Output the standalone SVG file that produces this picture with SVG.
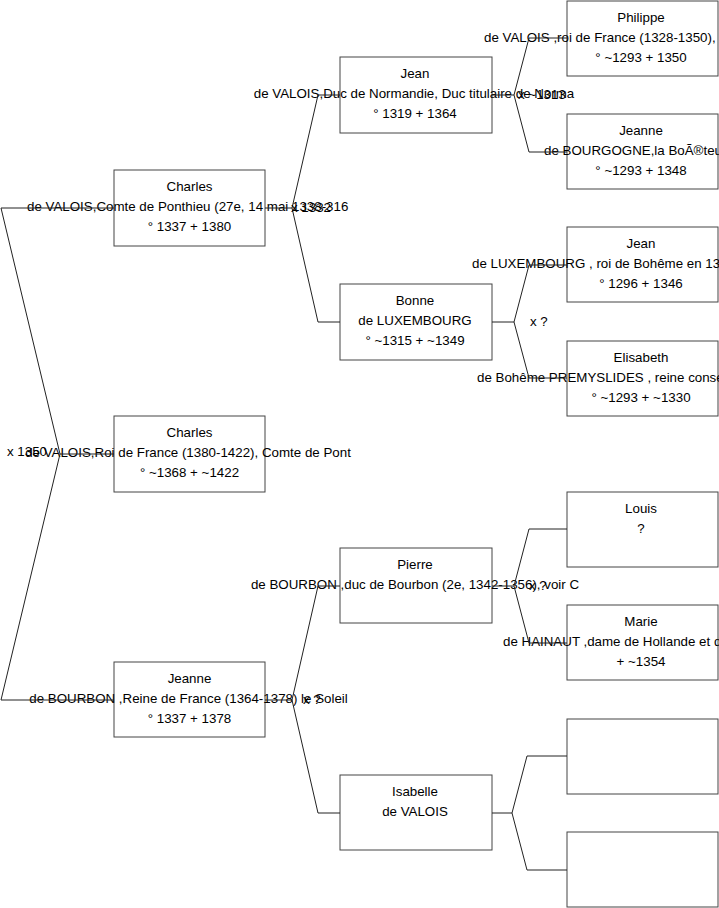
<svg xmlns="http://www.w3.org/2000/svg" width="719" height="908" viewBox="0 0 719 908">
<style>
.box{fill:#fff;stroke:#444;stroke-width:1}
text{font-family:"Liberation Sans",Arial,sans-serif;font-size:13.33px;fill:#000}
.c{text-anchor:middle}
.conn{fill:none;stroke:#222;stroke-width:1}
</style>
<rect x="0" y="0" width="719" height="908" fill="#fff"/>
<g id="n-charles-ponthieu">
<rect class="box" x="114" y="170" width="151" height="76"/>
<text class="c" x="189.5" y="191">Charles</text>
<text x="27" y="211">de VALOIS,Comte de Ponthieu (27e, 14 mai 1338-316</text>
<text class="c" x="189.5" y="231">° 1337 + 1380</text>
</g>
<g id="n-charles-roi">
<rect class="box" x="114" y="416" width="151" height="76"/>
<text class="c" x="189.5" y="437">Charles</text>
<text class="c" x="188" y="457">de VALOIS,Roi de France (1380-1422), Comte de Pont</text>
<text class="c" x="189.5" y="477">° ~1368 + ~1422</text>
</g>
<g id="n-jeanne-bourbon">
<rect class="box" x="114" y="662" width="151" height="75"/>
<text class="c" x="189.5" y="683">Jeanne</text>
<text class="c" x="188.5" y="703">de BOURBON ,Reine de France (1364-1378) le Soleil</text>
<text class="c" x="189.5" y="723">° 1337 + 1378</text>
</g>
<g id="n-jean-normandie">
<rect class="box" x="340" y="57" width="152" height="76"/>
<text class="c" x="415" y="78">Jean</text>
<text class="c" x="414" y="98">de VALOIS,Duc de Normandie, Duc titulaire de Norma</text>
<text class="c" x="415" y="118">° 1319 + 1364</text>
</g>
<g id="n-bonne">
<rect class="box" x="340" y="284" width="152" height="76"/>
<text class="c" x="415" y="305">Bonne</text>
<text class="c" x="415" y="325">de LUXEMBOURG</text>
<text class="c" x="415" y="345">° ~1315 + ~1349</text>
</g>
<g id="n-pierre">
<rect class="box" x="340" y="548" width="152" height="75"/>
<text class="c" x="415" y="569">Pierre</text>
<text class="c" x="415" y="589">de BOURBON ,duc de Bourbon (2e, 1342-1356), voir C</text>
</g>
<g id="n-isabelle">
<rect class="box" x="340" y="775" width="152" height="75"/>
<text class="c" x="415" y="796">Isabelle</text>
<text class="c" x="415" y="816">de VALOIS</text>
</g>
<g id="n-philippe">
<rect class="box" x="567" y="1" width="151" height="75"/>
<text class="c" x="641" y="22">Philippe</text>
<text x="484" y="42">de VALOIS ,roi de France (1328-1350),</text>
<text class="c" x="641" y="62">° ~1293 + 1350</text>
</g>
<g id="n-jeanne-bourgogne">
<rect class="box" x="567" y="114" width="151" height="75"/>
<text class="c" x="641" y="135">Jeanne</text>
<text x="544" y="155">de BOURGOGNE,la BoÃ®teu</text>
<text class="c" x="641" y="175">° ~1293 + 1348</text>
</g>
<g id="n-jean-luxembourg">
<rect class="box" x="567" y="227" width="151" height="75"/>
<text class="c" x="641" y="248">Jean</text>
<text x="472" y="268">de LUXEMBOURG , roi de Bohême en 13</text>
<text class="c" x="641" y="288">° 1296 + 1346</text>
</g>
<g id="n-elisabeth">
<rect class="box" x="567" y="341" width="151" height="75"/>
<text class="c" x="641" y="362">Elisabeth</text>
<text x="477" y="382">de Bohême PREMYSLIDES , reine conse</text>
<text class="c" x="641" y="402">° ~1293 + ~1330</text>
</g>
<g id="n-louis">
<rect class="box" x="567" y="492" width="151" height="75"/>
<text class="c" x="641" y="513">Louis</text>
<text class="c" x="641" y="533">?</text>
</g>
<g id="n-marie">
<rect class="box" x="567" y="605" width="151" height="75"/>
<text class="c" x="641" y="626">Marie</text>
<text x="503" y="646">de HAINAUT ,dame de Hollande et d</text>
<text class="c" x="641" y="666">+ ~1354</text>
</g>
<g id="n-empty-1">
<rect class="box" x="567" y="719" width="151" height="75"/>
</g>
<g id="n-empty-2">
<rect class="box" x="567" y="832" width="151" height="75"/>
</g>
<g id="connectors">
<polyline class="conn" points="114,208 1,208 60,454 1,700 114,700"/>
<line class="conn" x1="60" y1="454" x2="114" y2="454"/>
<polyline class="conn" points="265,208 292,208"/>
<polyline class="conn" points="340,95 318,95 292,208 318,322 340,322"/>
<polyline class="conn" points="265,700 292,700"/>
<polyline class="conn" points="340,586 318,586 292,700 318,813 340,813"/>
<polyline class="conn" points="492,95 514,95"/>
<polyline class="conn" points="567,38 529,38 514,95 529,152 567,152"/>
<polyline class="conn" points="492,322 514,322"/>
<polyline class="conn" points="567,265 529,265 514,322 529,378 567,378"/>
<polyline class="conn" points="492,586 514,586"/>
<polyline class="conn" points="567,529 529,529 514,586 529,643 567,643"/>
<polyline class="conn" points="492,813 512,813"/>
<polyline class="conn" points="567,756 527,756 512,813 527,870 567,870"/>
</g>
<g id="spouse-labels">
<text x="7" y="456">x 1350</text>
<text x="291" y="212">x 1332</text>
<text x="518" y="99">x ~1313</text>
<text x="530" y="326">x ?</text>
<text x="303" y="704">x ?</text>
<text x="529" y="590">x ?</text>
</g>
</svg>
